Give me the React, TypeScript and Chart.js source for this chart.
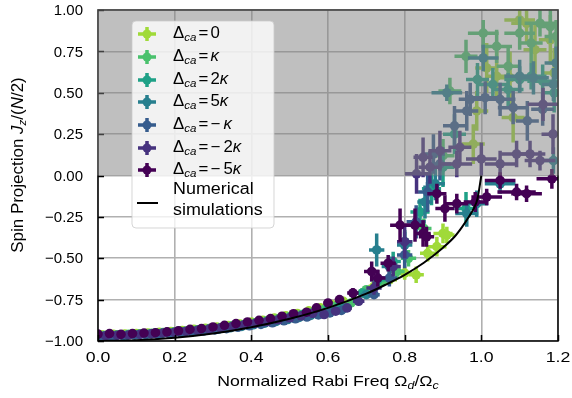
import React, { useEffect, useRef } from "react";
import { Chart, registerables } from "chart.js";
Chart.register(...registerables);

const FONT = '"Liberation Sans", Arial, Helvetica, sans-serif';

const seriesLabels = ["0", "κ", "2κ", "5κ", "− κ", "− 2κ", "− 5κ"];
const seriesColors = ["#a0da39", "#4ac16d", "#1fa187", "#277f8e", "#365c8d", "#46327e", "#440154"];

const xTicks = [0, 0.2, 0.4, 0.6, 0.8, 1.0, 1.2];
const xTickLabels = ["0.0", "0.2", "0.4", "0.6", "0.8", "1.0", "1.2"];
const yTicks = [-1, -0.75, -0.5, -0.25, 0, 0.25, 0.5, 0.75, 1];
const yTickLabels = ["−1.00", "−0.75", "−0.50", "−0.25", "0.00", "0.25", "0.50", "0.75", "1.00"];

// Numerical simulation curve
const simX = [0, 0.1, 0.2, 0.3, 0.4, 0.5, 0.6, 0.7, 0.75, 0.8, 0.85, 0.9, 0.93, 0.95, 0.97, 0.98, 0.99, 1.0];
const simY = [-1, -0.995, -0.98, -0.954, -0.917, -0.866, -0.8, -0.714, -0.66, -0.6, -0.527, -0.436, -0.37, -0.31, -0.24, -0.2, -0.14, 0];

// [x, y, xerr, yerr]
const s0: number[][] = [
  [0.01, -0.962, 0.01, 0.012], [0.04, -0.96, 0.01, 0.012], [0.07, -0.958, 0.01, 0.012], [0.1, -0.955, 0.01, 0.012],
  [0.13, -0.952, 0.01, 0.012], [0.16, -0.948, 0.01, 0.012], [0.19, -0.943, 0.01, 0.012], [0.22, -0.937, 0.01, 0.012],
  [0.25, -0.93, 0.01, 0.012], [0.28, -0.923, 0.01, 0.012], [0.31, -0.915, 0.01, 0.012], [0.34, -0.906, 0.01, 0.012],
  [0.37, -0.897, 0.01, 0.012], [0.4, -0.886, 0.01, 0.012], [0.43, -0.875, 0.01, 0.012], [0.46, -0.862, 0.01, 0.012],
  [0.49, -0.848, 0.01, 0.012], [0.52, -0.834, 0.01, 0.012], [0.55, -0.818, 0.01, 0.012], [0.58, -0.8, 0.01, 0.012],
  [0.61, -0.78, 0.01, 0.015], [0.64, -0.76, 0.012, 0.015],
  [0.69, -0.71, 0.015, 0.02], [0.72, -0.67, 0.015, 0.025], [0.76, -0.63, 0.02, 0.03], [0.8, -0.59, 0.02, 0.04],
  [0.83, -0.6, 0.02, 0.05], [0.86, -0.47, 0.02, 0.05], [0.884, -0.43, 0.025, 0.06], [0.9, -0.35, 0.025, 0.06],
  [0.91, -0.36, 0.02, 0.05], [0.979, 0.19, 0.03, 0.12], [0.988, 0.39, 0.03, 0.12], [1.014, 0.65, 0.03, 0.15],
  [1.04, 0.6, 0.03, 0.15], [1.075, 0.59, 0.03, 0.16], [1.083, 0.35, 0.03, 0.15], [1.1, 0.94, 0.04, 0.1],
  [1.118, 0.92, 0.04, 0.12], [1.14, 0.76, 0.03, 0.15], [1.18, 0.82, 0.03, 0.15], [1.19, 0.62, 0.03, 0.15],
];
const s1: number[][] = [
  [0.02, -0.965, 0.01, 0.012], [0.05, -0.962, 0.01, 0.012], [0.08, -0.96, 0.01, 0.012], [0.11, -0.956, 0.01, 0.012],
  [0.14, -0.953, 0.01, 0.012], [0.17, -0.949, 0.01, 0.012], [0.2, -0.944, 0.01, 0.012], [0.23, -0.94, 0.01, 0.012],
  [0.26, -0.932, 0.01, 0.012], [0.29, -0.925, 0.01, 0.012], [0.32, -0.918, 0.01, 0.012], [0.35, -0.908, 0.01, 0.012],
  [0.38, -0.9, 0.01, 0.012], [0.41, -0.89, 0.01, 0.012], [0.44, -0.878, 0.01, 0.012], [0.47, -0.866, 0.01, 0.012],
  [0.5, -0.853, 0.01, 0.012], [0.53, -0.84, 0.01, 0.012], [0.56, -0.826, 0.01, 0.012], [0.59, -0.81, 0.01, 0.012],
  [0.62, -0.79, 0.01, 0.015], [0.66, -0.77, 0.012, 0.015],
  [0.7, -0.69, 0.015, 0.02], [0.74, -0.64, 0.015, 0.03], [0.78, -0.58, 0.02, 0.04], [0.81, -0.5, 0.02, 0.05],
  [0.85, -0.32, 0.02, 0.06], [0.9, 0.12, 0.03, 0.1], [0.918, 0.51, 0.03, 0.08], [0.96, 0.72, 0.03, 0.1],
  [1.005, 0.86, 0.04, 0.08], [1.04, 0.78, 0.04, 0.1], [1.07, 0.66, 0.03, 0.12], [1.1, 0.86, 0.04, 0.1],
  [1.13, 0.8, 0.03, 0.12], [1.153, 0.92, 0.04, 0.08], [1.18, 0.9, 0.03, 0.1], [1.195, 0.84, 0.03, 0.1],
];
const s2: number[][] = [
  [0.0, -0.968, 0.01, 0.012], [0.03, -0.965, 0.01, 0.012], [0.06, -0.962, 0.01, 0.012], [0.09, -0.96, 0.01, 0.012],
  [0.12, -0.957, 0.01, 0.012], [0.15, -0.952, 0.01, 0.012], [0.18, -0.947, 0.01, 0.012], [0.21, -0.94, 0.01, 0.012],
  [0.24, -0.938, 0.01, 0.012], [0.27, -0.93, 0.01, 0.012], [0.3, -0.922, 0.01, 0.012], [0.33, -0.914, 0.01, 0.012],
  [0.36, -0.905, 0.01, 0.012], [0.39, -0.896, 0.01, 0.012], [0.42, -0.886, 0.01, 0.012], [0.45, -0.874, 0.01, 0.012],
  [0.48, -0.862, 0.01, 0.012], [0.51, -0.85, 0.01, 0.012], [0.54, -0.835, 0.01, 0.012], [0.57, -0.82, 0.01, 0.012],
  [0.6, -0.805, 0.01, 0.015], [0.63, -0.79, 0.012, 0.015],
  [0.69, -0.71, 0.015, 0.02], [0.73, -0.63, 0.02, 0.04], [0.77, -0.52, 0.02, 0.06], [0.8, -0.4, 0.02, 0.07],
  [0.84, -0.22, 0.025, 0.08], [0.87, -0.08, 0.025, 0.1], [0.9, 0.05, 0.03, 0.12], [0.93, 0.25, 0.03, 0.12],
  [0.96, -0.2, 0.03, 0.1], [0.99, 0.58, 0.03, 0.1], [1.03, 0.55, 0.04, 0.1], [1.07, 0.52, 0.04, 0.1],
  [1.1, 0.58, 0.04, 0.08], [1.13, 0.6, 0.04, 0.08], [1.16, 0.57, 0.04, 0.1], [1.19, 0.5, 0.03, 0.12],
];
const s3: number[][] = [
  [0.015, -0.97, 0.01, 0.012], [0.045, -0.968, 0.01, 0.012], [0.075, -0.966, 0.01, 0.012], [0.105, -0.962, 0.01, 0.012],
  [0.135, -0.958, 0.01, 0.012], [0.165, -0.955, 0.01, 0.012], [0.195, -0.95, 0.01, 0.012], [0.225, -0.945, 0.01, 0.012],
  [0.255, -0.94, 0.01, 0.012], [0.285, -0.935, 0.01, 0.012], [0.315, -0.928, 0.01, 0.012], [0.345, -0.92, 0.01, 0.012],
  [0.375, -0.912, 0.01, 0.012], [0.405, -0.902, 0.01, 0.012], [0.435, -0.892, 0.01, 0.012], [0.465, -0.882, 0.01, 0.012],
  [0.495, -0.87, 0.01, 0.012], [0.525, -0.857, 0.01, 0.012], [0.555, -0.845, 0.01, 0.012], [0.585, -0.832, 0.01, 0.012],
  [0.615, -0.815, 0.01, 0.015], [0.645, -0.8, 0.012, 0.015],
  [0.7, -0.72, 0.015, 0.02], [0.727, -0.45, 0.02, 0.1], [0.76, -0.55, 0.02, 0.06], [0.8, -0.42, 0.02, 0.08],
  [0.853, -0.16, 0.02, 0.1], [0.88, -0.05, 0.025, 0.1], [0.91, 0.5, 0.04, 0.05], [0.962, -0.23, 0.03, 0.08],
  [0.988, -0.17, 0.03, 0.08], [1.005, 0.71, 0.04, 0.08], [1.049, -0.05, 0.04, 0.06], [1.1, 0.6, 0.04, 0.1],
  [1.136, 0.59, 0.04, 0.1], [1.188, 0.09, 0.03, 0.08], [1.188, 0.55, 0.03, 0.1], [1.195, 0.68, 0.03, 0.1],
];
const s4: number[][] = [
  [0.005, -0.972, 0.01, 0.012], [0.035, -0.97, 0.01, 0.012], [0.065, -0.968, 0.01, 0.012], [0.095, -0.965, 0.01, 0.012],
  [0.125, -0.962, 0.01, 0.012], [0.155, -0.96, 0.01, 0.012], [0.185, -0.956, 0.01, 0.012], [0.215, -0.95, 0.01, 0.012],
  [0.245, -0.945, 0.01, 0.012], [0.275, -0.94, 0.01, 0.012], [0.305, -0.933, 0.01, 0.012], [0.335, -0.925, 0.01, 0.012],
  [0.365, -0.917, 0.01, 0.012], [0.395, -0.908, 0.01, 0.012], [0.425, -0.9, 0.01, 0.012], [0.455, -0.89, 0.01, 0.012],
  [0.485, -0.878, 0.01, 0.012], [0.515, -0.866, 0.01, 0.012], [0.545, -0.855, 0.01, 0.012], [0.575, -0.842, 0.01, 0.012],
  [0.605, -0.83, 0.01, 0.015], [0.635, -0.815, 0.012, 0.015],
  [0.72, -0.72, 0.015, 0.02], [0.76, -0.62, 0.02, 0.05], [0.8, -0.48, 0.02, 0.08], [0.83, -0.28, 0.025, 0.1],
  [0.86, -0.1, 0.025, 0.12], [0.875, 0.13, 0.03, 0.12], [0.892, 0.07, 0.03, 0.1], [0.93, 0.3, 0.03, 0.12],
  [0.962, 0.39, 0.03, 0.12], [0.971, 0.46, 0.03, 0.1], [1.01, 0.47, 0.04, 0.1], [1.049, 0.46, 0.04, 0.1],
  [1.083, 0.41, 0.04, 0.1], [1.12, 0.33, 0.03, 0.12], [1.16, 0.4, 0.03, 0.1],
];
const s5: number[][] = [
  [0.02, -0.968, 0.01, 0.012], [0.05, -0.966, 0.01, 0.012], [0.08, -0.964, 0.01, 0.012], [0.11, -0.96, 0.01, 0.012],
  [0.14, -0.957, 0.01, 0.012], [0.17, -0.952, 0.01, 0.012], [0.2, -0.948, 0.01, 0.012], [0.23, -0.942, 0.01, 0.012],
  [0.26, -0.935, 0.01, 0.012], [0.29, -0.928, 0.01, 0.012], [0.32, -0.92, 0.01, 0.012], [0.35, -0.912, 0.01, 0.012],
  [0.38, -0.903, 0.01, 0.012], [0.41, -0.894, 0.01, 0.012], [0.44, -0.884, 0.01, 0.012], [0.47, -0.872, 0.01, 0.012],
  [0.5, -0.86, 0.01, 0.012], [0.53, -0.848, 0.01, 0.012], [0.56, -0.833, 0.01, 0.012], [0.59, -0.84, 0.01, 0.012],
  [0.62, -0.82, 0.01, 0.015], [0.65, -0.8, 0.012, 0.015],
  [0.68, -0.76, 0.015, 0.02], [0.72, -0.68, 0.02, 0.04], [0.77, -0.55, 0.02, 0.06], [0.8, -0.4, 0.02, 0.1],
  [0.831, 0.01, 0.03, 0.12], [0.848, 0.11, 0.025, 0.12], [0.866, 0.05, 0.03, 0.1], [0.892, 0.15, 0.03, 0.12],
  [0.936, 0.07, 0.04, 0.08], [0.944, 0.17, 0.03, 0.1], [1.0, 0.1, 0.04, 0.1], [1.049, 0.07, 0.04, 0.08],
  [1.092, 0.13, 0.04, 0.08], [1.127, 0.13, 0.04, 0.08], [1.153, 0.09, 0.04, 0.06], [1.161, 0.43, 0.04, 0.1],
  [1.187, 0.25, 0.03, 0.12],
];
const s6: number[][] = [
  [0.0, -0.958, 0.01, 0.012], [0.03, -0.955, 0.01, 0.012], [0.06, -0.96, 0.01, 0.012], [0.09, -0.955, 0.01, 0.012],
  [0.12, -0.952, 0.01, 0.012], [0.15, -0.95, 0.01, 0.012], [0.18, -0.945, 0.01, 0.012], [0.21, -0.938, 0.01, 0.012],
  [0.24, -0.93, 0.01, 0.012], [0.27, -0.925, 0.01, 0.012], [0.3, -0.915, 0.01, 0.012], [0.33, -0.905, 0.01, 0.012],
  [0.36, -0.895, 0.01, 0.012], [0.39, -0.885, 0.01, 0.012], [0.42, -0.875, 0.01, 0.012], [0.45, -0.865, 0.01, 0.012],
  [0.48, -0.85, 0.01, 0.012], [0.51, -0.835, 0.01, 0.012], [0.544, -0.826, 0.012, 0.015], [0.57, -0.8, 0.012, 0.015],
  [0.6, -0.77, 0.012, 0.015], [0.63, -0.75, 0.012, 0.015],
  [0.665, -0.71, 0.015, 0.03], [0.714, -0.58, 0.02, 0.06], [0.73, -0.62, 0.02, 0.05], [0.757, -0.53, 0.02, 0.05],
  [0.788, -0.3, 0.026, 0.1], [0.827, -0.3, 0.026, 0.1], [0.848, -0.35, 0.02, 0.08], [0.857, -0.37, 0.02, 0.06],
  [0.884, -0.11, 0.025, 0.06], [0.905, -0.2, 0.025, 0.08], [0.936, -0.17, 0.03, 0.06], [0.984, -0.16, 0.03, 0.06],
  [1.014, -0.13, 0.04, 0.05], [1.049, -0.03, 0.04, 0.05], [1.092, -0.1, 0.05, 0.05], [1.118, -0.11, 0.04, 0.05],
  [1.184, -0.02, 0.04, 0.06],
];
const allSeries = [s0, s1, s2, s3, s4, s5, s6];

type Seg = { t: string; size: number; it?: boolean; dy?: number; gap?: number };

function segFont(s: Seg) {
  return `${s.it ? "italic " : ""}${s.size}px ${FONT}`;
}
function richWidth(ctx: CanvasRenderingContext2D, segs: Seg[]) {
  let w = 0;
  for (const s of segs) {
    ctx.font = segFont(s);
    w += ctx.measureText(s.t).width + (s.gap || 0);
  }
  return w;
}
function drawRich(ctx: CanvasRenderingContext2D, segs: Seg[], x: number, y: number) {
  let cx = x;
  ctx.textBaseline = "middle";
  ctx.textAlign = "left";
  for (const s of segs) {
    ctx.font = segFont(s);
    ctx.fillText(s.t, cx, y + (s.dy || 0));
    cx += ctx.measureText(s.t).width + (s.gap || 0);
  }
}
function drawScaledRich(ctx: CanvasRenderingContext2D, segs: Seg[], x: number, y: number, sx: number, align: "left" | "center") {
  const w = richWidth(ctx, segs) * sx;
  const x0 = align === "center" ? x - w / 2 : x;
  ctx.save();
  ctx.translate(x0, y);
  ctx.scale(sx, 1);
  drawRich(ctx, segs, 0, 0);
  ctx.restore();
}

const errorBarPlugin = {
  id: "errorBars",
  beforeDatasetDraw(chart: any, args: any) {
    const ds = chart.data.datasets[args.index];
    if (!ds.errs) return;
    const { ctx, chartArea } = chart;
    const xs = chart.scales.x;
    const ys = chart.scales.y;
    ctx.save();
    ctx.beginPath();
    ctx.rect(chartArea.left, chartArea.top, chartArea.right - chartArea.left, chartArea.bottom - chartArea.top);
    ctx.clip();
    ctx.strokeStyle = ds.backgroundColor;
    ctx.lineWidth = 3.5;
    ctx.lineCap = "butt";
    ds.errs.forEach((e: number[]) => {
      const px = xs.getPixelForValue(e[0]);
      const py = ys.getPixelForValue(e[1]);
      const x1 = xs.getPixelForValue(e[0] - e[2]);
      const x2 = xs.getPixelForValue(e[0] + e[2]);
      const y1 = ys.getPixelForValue(e[1] - e[3]);
      const y2 = ys.getPixelForValue(e[1] + e[3]);
      ctx.beginPath();
      ctx.moveTo(x1, py);
      ctx.lineTo(x2, py);
      ctx.moveTo(px, y1);
      ctx.lineTo(px, y2);
      ctx.stroke();
    });
    ctx.restore();
  },
};

const decorPlugin = {
  id: "decor",
  afterDatasetsDraw(chart: any) {
    const { ctx, chartArea } = chart;
    const xs = chart.scales.x;
    const ys = chart.scales.y;
    const { left, right, top, bottom } = chartArea;
    ctx.save();
    // spines
    ctx.strokeStyle = "#000";
    ctx.lineWidth = 1.5;
    ctx.strokeRect(left, top, right - left, bottom - top);
    // inward ticks
    ctx.beginPath();
    xTicks.forEach((v) => {
      const px = Math.round(xs.getPixelForValue(v)) + 0.5;
      ctx.moveTo(px, bottom);
      ctx.lineTo(px, bottom - 6);
    });
    yTicks.forEach((v) => {
      const py = Math.round(ys.getPixelForValue(v)) + 0.5;
      ctx.moveTo(left, py);
      ctx.lineTo(left + 6, py);
    });
    ctx.stroke();
    // shaded region y > 0
    const y0 = ys.getPixelForValue(0);
    ctx.fillStyle = "rgba(128,128,128,0.5)";
    ctx.fillRect(left - 1, top - 1, right - left + 2, y0 - top + 1);
    ctx.restore();
  },
  afterDraw(chart: any) {
    const { ctx, chartArea } = chart;
    const xs = chart.scales.x;
    const ys = chart.scales.y;
    ctx.save();
    ctx.fillStyle = "#000";
    // y tick labels
    ctx.font = `15px ${FONT}`;
    ctx.textAlign = "right";
    ctx.textBaseline = "middle";
    yTicks.forEach((v, i) => {
      ctx.fillText(yTickLabels[i], 83, ys.getPixelForValue(v) + 1);
    });
    // x tick labels
    xTicks.forEach((v, i) => {
      drawScaledRich(ctx, [{ t: xTickLabels[i], size: 15 }], xs.getPixelForValue(v), 358, 1.18, "center");
    });
    // x title
    drawScaledRich(
      ctx,
      [
        { t: "Normalized Rabi Freq ", size: 15 },
        { t: "Ω", size: 15 },
        { t: "d", size: 10.5, it: true, dy: 4 },
        { t: "/Ω", size: 15 },
        { t: "c", size: 10.5, it: true, dy: 4 },
      ],
      (chartArea.left + chartArea.right) / 2,
      382,
      1.18,
      "center"
    );
    // y title
    ctx.save();
    ctx.translate(19, 165);
    ctx.rotate(-Math.PI / 2);
    drawScaledRich(
      ctx,
      [
        { t: "Spin Projection ", size: 16 },
        { t: "J", size: 16, it: true },
        { t: "z", size: 11, it: true, dy: 4 },
        { t: "/(", size: 16 },
        { t: "N", size: 16, it: true },
        { t: "/2)", size: 16 },
      ],
      0,
      0,
      1.06,
      "center"
    );
    ctx.restore();

    // legend
    const bx = 132, by = 21, bw = 142, bh = 207, r = 4;
    ctx.beginPath();
    ctx.moveTo(bx + r, by);
    ctx.arcTo(bx + bw, by, bx + bw, by + bh, r);
    ctx.arcTo(bx + bw, by + bh, bx, by + bh, r);
    ctx.arcTo(bx, by + bh, bx, by, r);
    ctx.arcTo(bx, by, bx + bw, by, r);
    ctx.closePath();
    ctx.fillStyle = "rgba(255,255,255,0.8)";
    ctx.fill();
    ctx.strokeStyle = "rgba(204,204,204,0.8)";
    ctx.lineWidth = 1;
    ctx.stroke();

    const rowY = [34, 57, 80, 102, 125, 148, 170];
    seriesLabels.forEach((lab, i) => {
      const cy = rowY[i];
      const mx = 147;
      ctx.strokeStyle = seriesColors[i];
      ctx.fillStyle = seriesColors[i];
      ctx.lineWidth = 3.5;
      ctx.beginPath();
      ctx.moveTo(mx - 9, cy);
      ctx.lineTo(mx + 9, cy);
      ctx.moveTo(mx, cy - 7);
      ctx.lineTo(mx, cy + 7);
      ctx.stroke();
      ctx.beginPath();
      ctx.arc(mx, cy, 4.5, 0, Math.PI * 2);
      ctx.fill();
      ctx.fillStyle = "#000";
      const segs: Seg[] = [
        { t: "Δ", size: 16 },
        { t: "ca", size: 11, it: true, dy: 4, gap: 2 },
        { t: "=", size: 16, gap: 2 },
      ];
      if (lab.startsWith("−")) {
        segs.push({ t: "−", size: 16, gap: 3 });
        const rest = lab.slice(2);
        if (rest.length > 1) segs.push({ t: rest[0], size: 16 });
        segs.push({ t: "κ", size: 16, it: true });
      } else if (lab === "0") {
        segs.push({ t: "0", size: 16 });
      } else {
        if (lab.length > 1) segs.push({ t: lab[0], size: 16 });
        segs.push({ t: "κ", size: 16, it: true });
      }
      drawScaledRich(ctx, segs, 173, cy, 1.05, "left");
    });
    // simulation legend entry
    ctx.strokeStyle = "#000";
    ctx.lineWidth = 2;
    ctx.beginPath();
    ctx.moveTo(137, 203);
    ctx.lineTo(158, 203);
    ctx.stroke();
    ctx.fillStyle = "#000";
    drawScaledRich(ctx, [{ t: "Numerical", size: 16 }], 173, 190, 1.12, "left");
    drawScaledRich(ctx, [{ t: "simulations", size: 16 }], 173, 211, 1.12, "left");
    ctx.restore();
  },
};

export default function App() {
  const ref = useRef<HTMLCanvasElement | null>(null);
  useEffect(() => {
    if (!ref.current) return;
    const seriesDatasets = allSeries
      .map((s, i) => ({
        type: "scatter" as const,
        label: "Δca=" + seriesLabels[i],
        data: s.map((p) => ({ x: p[0], y: p[1] })),
        errs: s,
        backgroundColor: seriesColors[i],
        borderColor: seriesColors[i],
        pointRadius: 4.8,
        pointBorderWidth: 0,
        showLine: false,
      }))
      .reverse();
    const simDataset = {
      type: "line" as const,
      label: "Numerical simulations",
      data: simX.map((x, i) => ({ x, y: simY[i] })),
      borderColor: "#000",
      backgroundColor: "#000",
      borderWidth: 2,
      pointRadius: 0,
      cubicInterpolationMode: "monotone" as const,
      fill: false,
    };
    const chart = new Chart(ref.current, {
      type: "scatter",
      data: { datasets: [simDataset as any, ...(seriesDatasets as any)] },
      options: {
        responsive: false,
        animation: false,
        devicePixelRatio: 1,
        layout: { padding: { left: 98, right: 14, top: 10, bottom: 57 } },
        plugins: { legend: { display: false }, tooltip: { enabled: false } },
        scales: {
          x: {
            type: "linear",
            min: 0,
            max: 1.2,
            ticks: { display: false, stepSize: 0.2 },
            grid: { color: "#b0b0b0", lineWidth: 1.6, drawTicks: false },
            border: { display: false },
          },
          y: {
            type: "linear",
            min: -1,
            max: 1,
            ticks: { display: false, stepSize: 0.25 },
            grid: { color: "#b0b0b0", lineWidth: 1.6, drawTicks: false },
            border: { display: false },
          },
        },
      },
      plugins: [errorBarPlugin, decorPlugin],
    });
    return () => chart.destroy();
  }, []);
  return (
    <div style={{ position: "fixed", left: 0, top: 0, width: 572, height: 398, background: "#fff" }}>
      <canvas ref={ref} width={572} height={398} style={{ width: 572, height: 398, display: "block" }} />
    </div>
  );
}
